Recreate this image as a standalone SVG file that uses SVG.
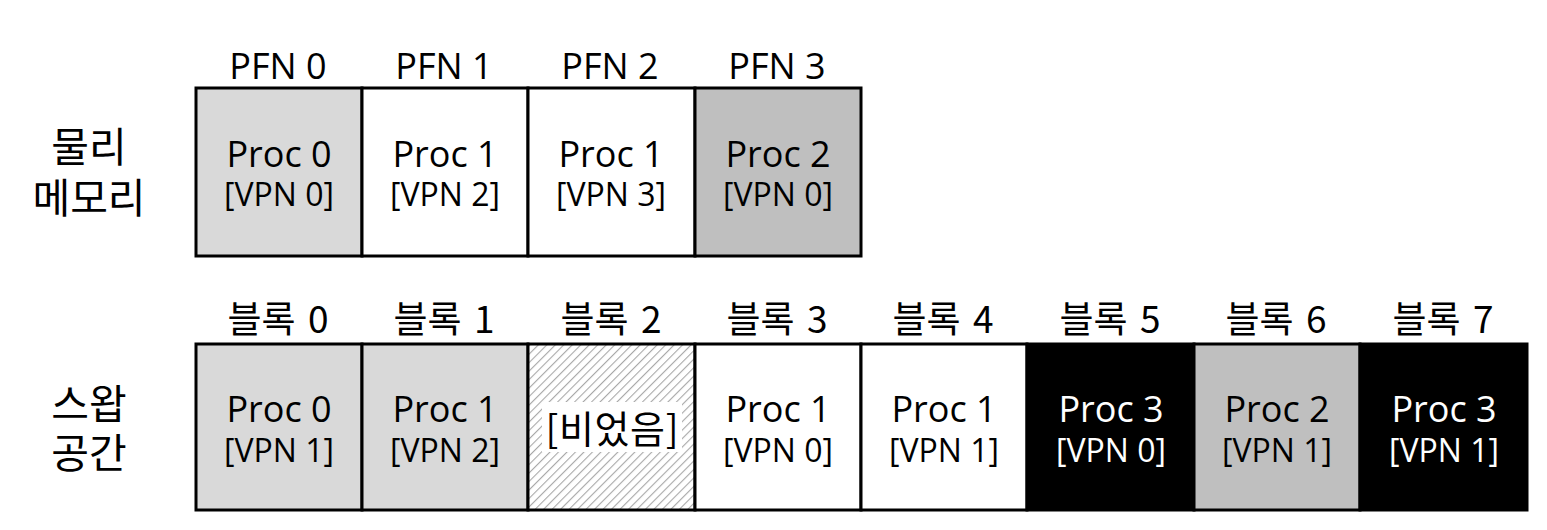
<svg xmlns="http://www.w3.org/2000/svg" width="1547" height="530" viewBox="0 0 1547 530">
<defs>
<pattern id="hatch" patternUnits="userSpaceOnUse" width="6" height="6" patternTransform="rotate(45)">
<rect width="6" height="6" fill="#ffffff"/>
<line x1="0" y1="0" x2="0" y2="6" stroke="#a8a8a8" stroke-width="2.2"/>
</pattern>
<style>
text{font-family:"Open Sans","Noto Sans","Noto Sans CJK KR",sans-serif;text-anchor:middle;fill:#000}
.kr{font-family:"Noto Sans CJK KR",sans-serif}
.cell{stroke:#000;stroke-width:3}
.lg{fill:#d9d9d9}.mg{fill:#bfbfbf}.wh{fill:#ffffff}.bk{fill:#000000}.ht{fill:url(#hatch)}
.p{font-size:36px}.v{font-size:32px}
.hd{font-size:36px}.bl{font-size:37px;word-spacing:4px}.side{font-size:41px}
.inv{fill:#ffffff}
</style>
</defs>
<rect width="1547" height="530" fill="#ffffff"/>
<g id="labels">
<text class="side kr"><tspan x="89" y="162">물리</tspan><tspan x="89" y="213">메모리</tspan></text>
<text class="side kr"><tspan x="89" y="419">스왑</tspan><tspan x="89" y="468">공간</tspan></text>
<text class="hd" x="278" y="79">PFN 0</text>
<text class="hd" x="444" y="79">PFN 1</text>
<text class="hd" x="610" y="79">PFN 2</text>
<text class="hd" x="777" y="79">PFN 3</text>
<text class="bl kr" x="278" y="333">블록 0</text>
<text class="bl kr" x="444" y="333">블록 1</text>
<text class="bl kr" x="611" y="333">블록 2</text>
<text class="bl kr" x="777" y="333">블록 3</text>
<text class="bl kr" x="943" y="333">블록 4</text>
<text class="bl kr" x="1110" y="333">블록 5</text>
<text class="bl kr" x="1276" y="333">블록 6</text>
<text class="bl kr" x="1443" y="333">블록 7</text>
</g>
<g id="pfn0"><rect class="cell lg" x="196" y="88" width="166" height="168"/><text class="p" x="279" y="167">Proc 0</text><text class="v" x="279" y="206">[VPN 0]</text></g>
<g id="pfn1"><rect class="cell wh" x="362" y="88" width="166" height="168"/><text class="p" x="445" y="167">Proc 1</text><text class="v" x="445" y="206">[VPN 2]</text></g>
<g id="pfn2"><rect class="cell wh" x="528" y="88" width="167" height="168"/><text class="p" x="611" y="167">Proc 1</text><text class="v" x="611" y="206">[VPN 3]</text></g>
<g id="pfn3"><rect class="cell mg" x="695" y="88" width="166" height="168"/><text class="p" x="778" y="167">Proc 2</text><text class="v" x="778" y="206">[VPN 0]</text></g>
<g id="blk0"><rect class="cell lg" x="196" y="344" width="166" height="166"/><text class="p" x="279" y="422">Proc 0</text><text class="v" x="279" y="462">[VPN 1]</text></g>
<g id="blk1"><rect class="cell lg" x="362" y="344" width="166" height="166"/><text class="p" x="445" y="422">Proc 1</text><text class="v" x="445" y="462">[VPN 2]</text></g>
<g id="blk2"><rect class="cell ht" x="528" y="344" width="167" height="166"/><rect x="542" y="402" width="140" height="50" fill="#ffffff"/><text class="kr" x="612" y="443" textLength="133" style="font-size:38px">[비었음]</text></g>
<g id="blk3"><rect class="cell wh" x="695" y="344" width="166" height="166"/><text class="p" x="778" y="422">Proc 1</text><text class="v" x="778" y="462">[VPN 0]</text></g>
<g id="blk4"><rect class="cell wh" x="861" y="344" width="166" height="166"/><text class="p" x="944" y="422">Proc 1</text><text class="v" x="944" y="462">[VPN 1]</text></g>
<g id="blk5"><rect class="cell bk" x="1027" y="344" width="167" height="166"/><text class="p inv" x="1111" y="422">Proc 3</text><text class="v inv" x="1111" y="462">[VPN 0]</text></g>
<g id="blk6"><rect class="cell mg" x="1194" y="344" width="166" height="166"/><text class="p" x="1277" y="422">Proc 2</text><text class="v" x="1277" y="462">[VPN 1]</text></g>
<g id="blk7"><rect class="cell bk" x="1360" y="344" width="167" height="166"/><text class="p inv" x="1444" y="422">Proc 3</text><text class="v inv" x="1444" y="462">[VPN 1]</text></g>
<g id="connectors"/>
</svg>
